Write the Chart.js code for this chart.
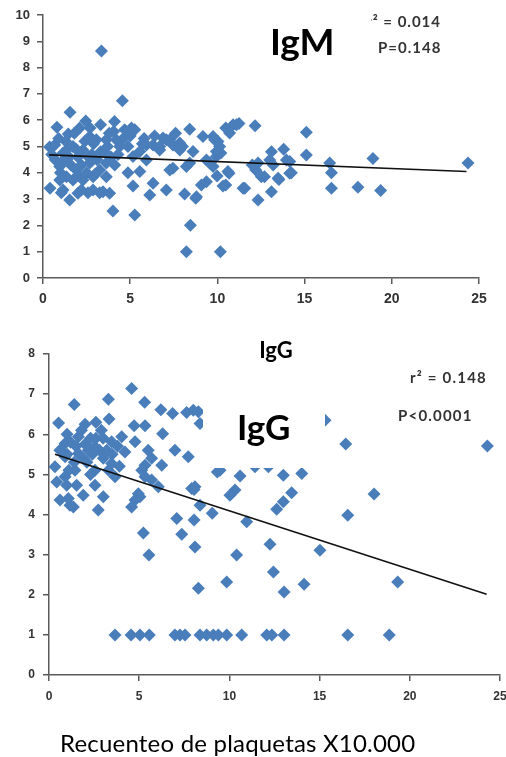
<!DOCTYPE html>
<html><head><meta charset="utf-8">
<script src="https://cdn.jsdelivr.net/npm/chart.js@4/dist/chart.umd.min.js"></script>
<style>
html,body{margin:0;padding:0;background:#fff;width:506px;height:757px;overflow:hidden;position:relative;}
canvas{position:absolute;left:0;}
#c1{top:0;width:520px;height:320px;}
#c2{top:320px;width:520px;height:437px;}
</style></head><body>
<canvas id="c1" width="520" height="320"></canvas>
<canvas id="c2" width="520" height="437"></canvas>
<script>
// ---- DATA ----
const xTicks = [0, 5, 10, 15, 20, 25];
const igmYTicks = [0, 1, 2, 3, 4, 5, 6, 7, 8, 9, 10];
const iggYTicks = [0, 1, 2, 3, 4, 5, 6, 7, 8];

const igmX = [3.35,4.55,1.55,0.80,2.45,3.30,4.10,8.41,11.24,12.16,10.48,15.10,1.45,9.17,13.80,13.10,15.10,18.92,24.37,0.40,
1.53,4.01,5.26,8.45,8.22,10.17,18.06,19.36,16.54,16.54,16.44,14.24,13.53,13.10,12.33,11.57,10.48,10.67,9.98,9.37,
9.08,8.76,8.12,8.41,7.07,7.27,6.31,6.12,5.55,5.16,4.87,3.82,3.25,2.58,2.00,1.05,4.11,12.20,12.70,12.00,
13.20,13.96,9.94,9.56,10.20,0.67,2.20,2.87,3.44,7.45,8.22,8.80,6.31,7.07,7.45,6.69,7.84,8.60,4.40,4.87,
4.20,5.55,5.93,5.16,3.63,3.25,2.68,1.91,1.34,0.96,2.29,3.06,1.72,3.63,2.68,1.15,1.72,2.29,2.87,3.63,
0.96,1.15,4.05,4.68,5.26,0.38,10.70,9.84,10.03,9.37,9.75,10.60,12.33,13.00,14.15,12.52,13.48,14.15,11.47,10.32,
11.09,9.75,10.03,10.90,5.93,6.88,7.27,7.84,9.94,10.13,6.69,5.07,1.20,1.60,2.00,2.50,2.80,3.10,3.50,3.90,
1.40,2.40,1.80,3.80,4.30,0.70,1.00,2.00,3.00,1.30,2.10,4.60,5.00,5.70,0.50,2.70,
1.50,2.20,2.60,3.30,3.70,1.90,2.90,0.90,5.80,6.40,7.60,8.00];
const igmY = [8.63,6.74,6.30,5.73,5.97,5.83,5.95,5.66,5.87,5.79,5.70,5.54,5.48,5.38,4.90,4.80,4.68,4.54,4.37,3.41,
2.97,2.55,2.40,2.01,1.00,1.00,3.45,3.33,3.41,4.00,4.37,4.00,3.75,3.28,2.97,3.41,3.54,3.98,3.88,3.66,
3.54,3.03,3.19,4.37,3.35,4.11,3.60,3.16,4.05,3.50,4.00,3.22,3.24,3.24,3.22,3.24,4.30,4.11,3.85,4.30,
4.30,4.49,4.62,4.37,4.75,5.06,3.35,3.35,3.28,4.17,4.24,3.09,5.06,5.26,5.06,4.87,4.87,4.81,5.00,5.00,
5.26,4.81,4.49,4.62,4.37,4.11,4.37,4.11,3.85,4.24,4.87,5.26,5.00,5.26,5.38,4.75,3.73,3.73,3.85,3.85,
3.73,3.35,5.57,5.64,5.64,4.98,5.51,5.26,4.81,4.49,4.24,4.05,4.37,4.49,4.43,3.85,3.79,3.98,3.41,3.50,
5.83,5.38,5.19,5.83,5.06,5.32,5.26,5.13,4.81,5.00,5.00,5.70,4.50,4.30,4.60,4.00,4.70,4.50,4.80,4.60,
4.90,5.20,5.50,5.50,4.70,4.50,4.00,3.90,3.95,5.20,5.70,5.30,5.40,5.10,4.70,5.70,
4.60,4.30,4.60,4.80,5.00,4.90,5.10,5.30,5.30,5.40,5.50,5.00];
const igmTrendX = [0.35, 24.28];
const igmTrendY = [4.68, 4.05];

const iggX = [4.58,1.40,3.29,5.30,6.20,6.85,7.63,8.28,0.53,2.00,3.33,4.72,5.32,8.37,6.30,16.45,24.30,15.30,4.03,4.77,
6.98,7.72,0.89,1.63,2.55,3.47,4.21,5.50,5.69,6.25,5.32,0.33,0.89,1.63,2.18,3.01,3.47,0.89,1.44,2.55,
3.66,5.14,5.32,5.69,6.06,7.91,0.98,2.55,1.90,3.01,1.07,1.35,2.73,4.77,4.95,4.58,7.08,0.43,1.53,0.61,
1.16,5.04,5.23,5.54,7.36,8.09,8.04,8.04,8.37,9.05,8.28,9.85,9.33,10.59,10.03,10.31,10.40,10.96,11.42,12.16,
12.99,14.01,12.62,12.99,13.45,12.25,12.44,13.03,14.14,15.02,16.56,18.02,19.33,
3.66,4.55,5.04,5.56,6.98,7.26,7.54,8.37,8.74,9.11,9.39,9.85,10.68,12.07,12.35,13.03,16.56,18.86,
1.20,2.30,2.90,1.80,3.00,2.60,1.00,2.10,2.80,3.90,1.40,2.40,3.50,2.00,8.00,8.09,9.48,
1.00,1.50,2.60,3.20,3.80,0.60,1.90,3.30,2.30,1.10];
const iggY = [7.14,6.74,6.87,6.80,6.61,6.52,6.54,6.56,6.28,6.25,6.38,6.21,6.21,6.27,6.01,5.76,5.71,6.35,5.94,5.81,
5.60,5.44,5.77,5.94,5.69,5.81,5.56,5.60,5.40,5.23,5.23,5.19,5.44,5.52,5.60,5.40,5.27,4.94,5.10,5.10,
4.94,5.10,4.94,4.86,4.69,4.65,4.73,4.73,4.48,4.44,4.40,4.19,4.11,4.36,4.52,4.19,3.90,4.81,4.73,4.36,
4.23,4.44,3.54,2.99,3.51,3.19,3.86,4.62,4.23,4.03,2.16,2.32,5.06,4.96,4.48,4.61,2.99,3.82,5.19,5.19,
4.98,5.02,4.13,4.32,4.54,3.26,2.57,2.07,2.26,3.11,3.98,4.51,2.32,
1,1,1,1,1,1,1,1,1,1,1,1,1,1,1,1,1,1,
5.80,5.90,6.10,6.10,5.90,6.30,5.50,5.30,5.60,5.20,5.30,5.50,5.50,5.75,6.60,4.69,5.10,
6.00,5.70,5.90,5.60,5.70,5.60,5.40,5.10,5.00,5.10];
const iggTrendX = [0.33, 24.26];
const iggTrendY = [5.50, 2.01];

// ---- DRAWING ----
const AXIS = '#5a5a5a';
const BLUE = '#4A7EBB';

function textPlugin(items) {
  return {
    id: 'txt',
    afterDraw(chart) {
      const ctx = chart.ctx;
      items.forEach(it => {
        ctx.save();
        if (it.rect) {
          ctx.fillStyle = '#ffffff';
          ctx.fillRect(it.rect[0], it.rect[1], it.rect[2], it.rect[3]);
        } else {
          ctx.font = it.font;
          ctx.fillStyle = it.color || '#000';
          ctx.textAlign = it.align || 'left';
          ctx.textBaseline = 'alphabetic';
          if (it.ls) ctx.letterSpacing = it.ls;
          ctx.fillText(it.text, it.x, it.y);
        }
        ctx.restore();
      });
    }
  };
}

function makeChart(id, xs, ys, tx, ty, yTicks, ymax, g, items) {
  return new Chart(document.getElementById(id), {
    type: 'scatter',
    data: {
      datasets: [
        { type: 'line', data: tx.map((x, i) => ({ x, y: ty[i] })), borderColor: '#111', borderWidth: 1.6,
          pointRadius: 0, fill: false, tension: 0, order: 0 },
        { data: xs.map((x, i) => ({ x, y: ys[i] })), pointStyle: 'rectRot', pointRadius: 6.5,
          backgroundColor: BLUE, borderColor: BLUE, borderWidth: 0, order: 1 }
      ]
    },
    options: {
      responsive: false, animation: false, devicePixelRatio: 1,
      layout: { padding: { top: g.top, right: g.right, left: 0, bottom: 0 } },
      plugins: { legend: { display: false }, tooltip: { enabled: false } },
      scales: {
        x: {
          type: 'linear', min: 0, max: 25,
          afterBuildTicks: s => { s.ticks = xTicks.map(v => ({ value: v })); },
          afterFit: s => { s.height = g.xh; },
          grid: { drawOnChartArea: false, tickLength: 6, color: AXIS, lineWidth: 1.5 },
          border: { color: AXIS, width: 1.5 },
          ticks: { font: { family: 'Liberation Sans', weight: 'bold', size: g.xfs }, color: '#333', padding: g.xpad, maxRotation: 0 }
        },
        y: {
          type: 'linear', min: 0, max: ymax,
          afterBuildTicks: s => { s.ticks = yTicks.map(v => ({ value: v })); },
          afterFit: s => { s.width = g.left; },
          grid: { drawOnChartArea: false, tickLength: 6, color: AXIS, lineWidth: 1.5 },
          border: { color: AXIS, width: 1.5 },
          ticks: { font: { family: 'Liberation Sans', weight: 'bold', size: g.yfs }, color: '#333', padding: g.ypad }
        }
      }
    },
    plugins: [textPlugin(items)]
  });
}

makeChart('c1', igmX, igmY, igmTrendX, igmTrendY, igmYTicks, 10,
  { top: 15, right: 41, left: 43, xh: 42, xfs: 14, yfs: 13, xpad: 7, ypad: 7 },
  [
    { text: 'r\u00B2 = 0.014', font: 'bold 15px Lato', ls: '1px', color: '#333', align: 'right', x: 441, y: 27 },
    { rect: [255, 4, 116, 70] },
    { text: 'IgM', font: 'bold 37px Lato', color: '#000', x: 270, y: 55 },
    { text: 'P=0.148', font: 'bold 15px Lato', ls: '1px', color: '#333', x: 378, y: 53 }
  ]);

makeChart('c2', iggX, iggY, iggTrendX, iggTrendY, iggYTicks, 8,
  { top: 34, right: 20, left: 49, xh: 82, xfs: 12, yfs: 12, xpad: 8, ypad: 8 },
  [
    { text: 'IgG', font: 'bold 22px Lato', color: '#000', align: 'center', x: 276, y: 38 },
    { text: 'r\u00B2 = 0.148', font: 'bold 15px Lato', ls: '1.2px', color: '#333', x: 410, y: 63 },
    { text: 'P<0.0001', font: 'bold 15px Lato', ls: '1.2px', color: '#333', x: 398, y: 101 },
    { rect: [203, 58, 122, 90] },
    { text: 'IgG', font: 'bold 35px Lato', color: '#000', x: 237, y: 120 },
    { text: 'Recuenteo de plaquetas X10.000', font: '24px Lato', ls: '0.2px', color: '#000', x: 60, y: 432 }
  ]);
</script>
</body></html>
